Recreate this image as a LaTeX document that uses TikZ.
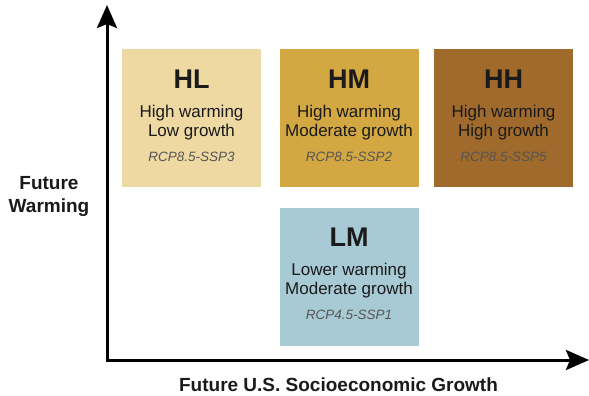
\documentclass[tikz,border=0pt]{standalone}
\usepackage{fontspec}
\setmainfont{Liberation Sans}
\usetikzlibrary{arrows.meta}
\definecolor{hlcol}{HTML}{EFD9A3}
\definecolor{hmcol}{HTML}{D3A842}
\definecolor{hhcol}{HTML}{9F6A2C}
\definecolor{lmcol}{HTML}{A8CAD5}
\definecolor{txt}{HTML}{1A1A1A}
\definecolor{rcp}{HTML}{555555}

\begin{document}
\begin{tikzpicture}[x=1pt, y=-1pt,
  box/.style = {minimum width=139pt, minimum height=138pt, inner sep=0pt, outer sep=0pt},
  title/.style = {font=\fontsize{27}{29}\selectfont\bfseries, text=txt},
  body/.style = {font=\fontsize{17}{19}\selectfont, text=txt, align=center},
  scen/.style = {font=\fontsize{13.5}{15}\selectfont\itshape, text=rcp},
  axlab/.style = {font=\fontsize{19}{23}\selectfont\bfseries, text=txt, align=center},
  axis/.style = {line width=3pt, {Stealth[length=23pt,width=20pt,inset=4pt]}-{Stealth[length=23pt,width=20pt,inset=4pt]}}]
  \useasboundingbox (0,0) rectangle (589,396);
  % scenario boxes
  \node[box, fill=hlcol] (hl) at (191.5,118) {};
  \node[box, fill=hmcol] (hm) at (349,118) {};
  \node[box, fill=hhcol] (hh) at (503.5,118) {};
  \node[box, fill=lmcol] (lm) at (349,276.5) {};
  % box texts
  \node[title] (hlt) at (191.5,79) {HL};
  \node[body] (hlb) at (191.5,123) {High warming\\Low growth};
  \node[scen] (hls) at (191.5,157) {RCP8.5-SSP3};
  \node[title] (hmt) at (349,79) {HM};
  \node[body] (hmb) at (349,123) {High warming\\Moderate growth};
  \node[scen] (hms) at (349,157) {RCP8.5-SSP2};
  \node[title] (hht) at (503.5,79) {HH};
  \node[body] (hhb) at (503.5,123) {High warming\\High growth};
  \node[scen] (hhs) at (503.5,157) {RCP8.5-SSP5};
  \node[title] (lmt) at (349,237) {LM};
  \node[body] (lmb) at (349,281) {Lower warming\\Moderate growth};
  \node[scen] (lms) at (349,315) {RCP4.5-SSP1};
  % axes
  \coordinate (o) at (107,360);
  \coordinate (ytip) at (107,5);
  \coordinate (xtip) at (589,360);
  \draw[axis] (ytip) -- (o) -- (xtip);
  \node[axlab] (ylab) at (49,196) {Future\\Warming};
  \node[axlab] (xlab) at (338.5,385) {Future U.S. Socioeconomic Growth};
\end{tikzpicture}
\end{document}
